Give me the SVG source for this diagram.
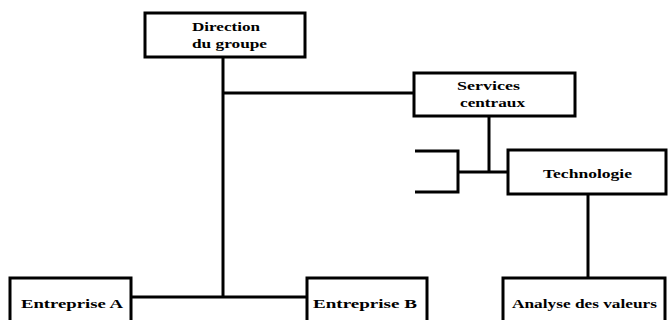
<svg xmlns="http://www.w3.org/2000/svg" width="668" height="320" viewBox="0 0 668 320">
<style>
.box{fill:#fff;stroke:#000;stroke-width:3}
.ln{fill:none;stroke:#000;stroke-width:3}
text{font-family:"Liberation Serif","DejaVu Serif",serif;font-weight:bold;font-size:13px;fill:#000}
</style>
<rect width="668" height="320" fill="#fff"/>
<g id="connectors">
<polyline class="ln" points="223,57 223,297"/>
<polyline class="ln" points="223,93 414,93"/>
<polyline class="ln" points="131,297 307,297"/>
<polyline class="ln" points="489,116 489,172"/>
<polyline class="ln" points="415,151 458,151 458,192 415,192"/>
<polyline class="ln" points="458,172 508,172"/>
<polyline class="ln" points="588,194 588,278"/>
</g>
<g id="direction">
<rect class="box" x="145" y="13" width="160" height="44"/>
<text x="192" y="31" textLength="68" lengthAdjust="spacingAndGlyphs">Direction</text>
<text x="192" y="48" textLength="75" lengthAdjust="spacingAndGlyphs">du groupe</text>
</g>
<g id="services">
<rect class="box" x="414" y="73" width="161" height="43"/>
<text x="457" y="90" textLength="63" lengthAdjust="spacingAndGlyphs">Services</text>
<text x="460" y="107" textLength="65" lengthAdjust="spacingAndGlyphs">centraux</text>
</g>
<g id="technologie">
<rect class="box" x="508" y="150" width="158" height="44"/>
<text x="543" y="178" textLength="89" lengthAdjust="spacingAndGlyphs">Technologie</text>
</g>
<g id="entrepriseA">
<rect class="box" x="10" y="278" width="121" height="50"/>
<text x="21" y="308" textLength="102" lengthAdjust="spacingAndGlyphs">Entreprise  A</text>
</g>
<g id="entrepriseB">
<rect class="box" x="307" y="278" width="120" height="50"/>
<text x="313" y="308" textLength="104" lengthAdjust="spacingAndGlyphs">Entreprise  B</text>
</g>
<g id="analyse">
<rect class="box" x="503" y="278" width="162" height="50"/>
<text x="512" y="308" textLength="145" lengthAdjust="spacingAndGlyphs">Analyse des valeurs</text>
</g>
</svg>
